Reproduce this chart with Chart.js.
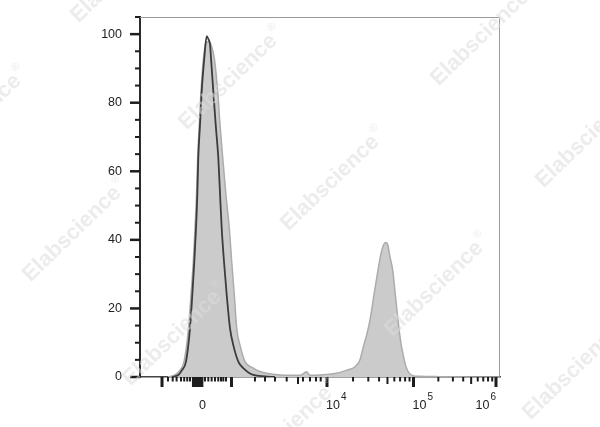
<!DOCTYPE html>
<html>
<head>
<meta charset="utf-8">
<script src="https://cdn.jsdelivr.net/npm/chart.js@4.4.1/dist/chart.umd.min.js"></script>
<style>
  body { margin: 0; background: #fff; }
  canvas { display: block; }
</style>
</head>
<body>
<canvas id="myChart" width="600" height="427"></canvas>
<script>
// x values are display channels (0..1024) of the biexponential axis
const sampleX = [79.6, 99.6, 113.8, 125.2, 138.0, 145.1, 151.6, 156.4, 160.7, 164.1, 168.7, 173.5, 180.6, 187.7,
  196.3, 203.4, 211.3, 221.0, 227.6, 235.2, 244.1, 254.0, 260.8, 268.2, 275.1, 284.4, 298.7, 322.3, 341.3,
  360.4, 384.0, 412.4, 455.1, 474.2, 483.6, 512.0, 554.7, 588.8, 611.6, 625.8, 635.2, 644.8, 654.2, 665.6,
  677.0, 685.5, 692.6, 698.9, 705.4, 711.1, 718.8, 725.3, 733.9, 742.0, 749.5, 756.6, 765.1, 776.5, 796.4,
  853.3, 1024];
const sampleY = [0, 0.6, 2, 4.5, 14.2, 24, 33.7, 43.4, 53, 64, 73.6, 83.3, 93, 97.5,
  97.8, 96.5, 93, 83.3, 73.6, 64, 53.5, 43.4, 33.7, 24, 14.2, 9.3, 4.5, 2.6, 1.6,
  1.1, 0.7, 0.5, 0.5, 1.5, 0.5, 0.6, 1, 2, 3, 5, 8.8, 12.3, 16.6, 24,
  31.2, 36, 38.5, 39.2, 38.3, 35, 31.2, 25, 16.6, 10, 6, 3, 1.2, 0.4, 0.2,
  0.1, 0];

const controlX = [91.0, 108.9, 119.5, 130.8, 142.2, 148.8, 154.5, 159.3, 163.0, 165.8, 170.7, 175.5, 182.9, 189.7,
  194.8, 199.1, 202.0, 208.5, 215.3, 222.7, 227.6, 232.4, 238.9, 246.6, 256.0, 265.4, 279.6, 293.8, 322.3,
  355.6, 384.0];
const controlY = [0, 0.6, 2, 4.5, 14.2, 24, 33.7, 43.4, 53, 64, 73.6, 83.3, 93, 99.4,
  98.5, 97, 93, 83.3, 73.6, 64, 53.5, 43.4, 33.7, 24, 14.2, 9.3, 4.5, 2.6, 0.6,
  0.2, 0];

// y axis
const yTickValues = [0, 20, 40, 60, 80, 100];
const yMinorTicks = [5, 10, 15, 25, 30, 35, 45, 50, 55, 65, 70, 75, 85, 90, 95, 105];

// x axis ticks (channels)
const xMajorTicks = [62.6, 152, 158, 164, 170, 176, 260.3, 531.9, 778, 1012.6];
const xMediumTicks = [449.4, 703.9, 942];
const xMinorTicks = [79.6, 93, 104.1, 116.6, 125.7, 134.3, 142.2, 184.9, 194.3, 203.8, 213.3, 222.6, 230.4,
  236.9, 244.6, 327, 355.6, 384, 417.3, 463.6, 483.6, 500.6, 514, 606, 649.4, 680, 723.4, 739.8, 754.1,
  766.7, 848.6, 890, 919.3, 960.7, 976.3, 990, 1001.9];
const xLabelPos = [178, 531.9, 778, 1012.6];
const xLabelBase = ['0', '10', '10', '10'];
const xLabelExp = ['', '4', '5', '6'];

const watermarkCenters = [[120, -25], [228, 82], [330, 183], [434, 289], [572, 372], [-28, 122],
  [72, 234], [172, 338], [283, 434], [480, 38], [585, 140]];

const FONT = '"Liberation Sans", Arial, sans-serif';

function toPoints(xs, ys) {
  return xs.map((x, i) => ({ x: x, y: ys[i] }));
}

const axisDecor = {
  id: 'axisDecor',
  afterDraw(chart) {
    const c = chart.ctx;
    const area = chart.chartArea;
    const xs = chart.scales.x;
    const ys = chart.scales.y;
    c.save();

    // box top / right
    c.strokeStyle = '#9a9a9a';
    c.lineWidth = 1;
    c.beginPath();
    c.moveTo(area.left, area.top + 0.5);
    c.lineTo(area.right - 0.5, area.top + 0.5);
    c.lineTo(area.right - 0.5, area.bottom);
    c.stroke();

    c.strokeStyle = '#1e1e1e';
    // y ticks
    function yTick(v, len, w) {
      const py = ys.getPixelForValue(v);
      c.lineWidth = w;
      c.beginPath();
      c.moveTo(area.left - len, py);
      c.lineTo(area.left, py);
      c.stroke();
    }
    yTickValues.forEach(v => yTick(v, 10, 2.5));
    yMinorTicks.forEach(v => yTick(v, 5, 2));

    // x ticks
    function xTick(v, len, w) {
      const px = xs.getPixelForValue(v);
      c.lineWidth = w;
      c.beginPath();
      c.moveTo(px, area.bottom);
      c.lineTo(px, area.bottom + len);
      c.stroke();
    }
    xMajorTicks.forEach(v => xTick(v, 10, 3));
    xMediumTicks.forEach(v => xTick(v, 7, 2));
    xMinorTicks.forEach(v => xTick(v, 4.5, 2));

    // x labels
    c.fillStyle = '#222';
    c.textBaseline = 'alphabetic';
    xLabelPos.forEach((v, i) => {
      const px = xs.getPixelForValue(v);
      const base = xLabelBase[i];
      const exp = xLabelExp[i];
      c.font = '12.5px ' + FONT;
      const bw = c.measureText(base).width;
      c.font = '10px ' + FONT;
      const ew = exp ? c.measureText(exp).width + 1 : 0;
      let x0;
      if (!exp) x0 = px - bw / 2;
      else if (i === xLabelPos.length - 1) x0 = px - bw - ew;
      else x0 = px - 1;
      c.textAlign = 'left';
      c.font = '12.5px ' + FONT;
      c.fillText(base, x0, 409);
      if (exp) {
        c.font = '10px ' + FONT;
        c.fillText(exp, x0 + bw + 1, 400);
      }
    });

    // watermark
    c.fillStyle = 'rgba(220,220,220,0.55)';
    watermarkCenters.forEach(p => {
      c.save();
      c.translate(p[0], p[1]);
      c.rotate(-44 * Math.PI / 180);
      c.font = 'bold 22px ' + FONT;
      c.textAlign = 'center';
      c.textBaseline = 'middle';
      c.fillText('Elabscience', 0, 0);
      const w = c.measureText('Elabscience').width;
      c.font = '11px ' + FONT;
      c.textAlign = 'left';
      c.fillText('\u00AE', w / 2 + 2, -9);
      c.restore();
    });

    c.restore();
  }
};

var ctx = document.getElementById('myChart');
var chart = new Chart(ctx, {
  type: 'line',
  data: {
    datasets: [{
      label: 'control',
      data: toPoints(controlX, controlY),
      borderColor: '#3c3c3c',
      borderWidth: 1.8,
      fill: false,
      pointRadius: 0,
      cubicInterpolationMode: 'monotone',
      order: 0
    }, {
      label: 'sample',
      data: toPoints(sampleX, sampleY),
      borderColor: '#acacac',
      backgroundColor: '#cbcbcb',
      borderWidth: 1.5,
      fill: 'origin',
      pointRadius: 0,
      cubicInterpolationMode: 'monotone',
      order: 1
    }]
  },
  options: {
    responsive: false,
    animation: false,
    events: [],
    layout: { padding: { top: 17, right: 100, left: 0, bottom: 0 } },
    plugins: {
      legend: { display: false },
      tooltip: { enabled: false }
    },
    scales: {
      x: {
        type: 'linear',
        min: 0,
        max: 1024,
        afterFit: s => { s.height = 50; s.paddingLeft = 0; s.paddingRight = 0; },
        grid: { display: false, drawTicks: false },
        border: { display: true, color: '#444', width: 1.5 },
        ticks: { display: false }
      },
      y: {
        min: 0,
        max: 105,
        afterFit: s => { s.width = 140; s.paddingTop = 0; s.paddingBottom = 0; },
        afterBuildTicks: s => { s.ticks = yTickValues.map(v => ({ value: v })); },
        grid: { display: false, drawTicks: false },
        border: { display: true, color: '#2a2a2a', width: 2 },
        ticks: {
          padding: 18,
          color: '#222',
          font: { size: 12.5, family: FONT },
          callback: v => String(v)
        }
      }
    }
  },
  plugins: [axisDecor]
});
</script>
</body>
</html>
